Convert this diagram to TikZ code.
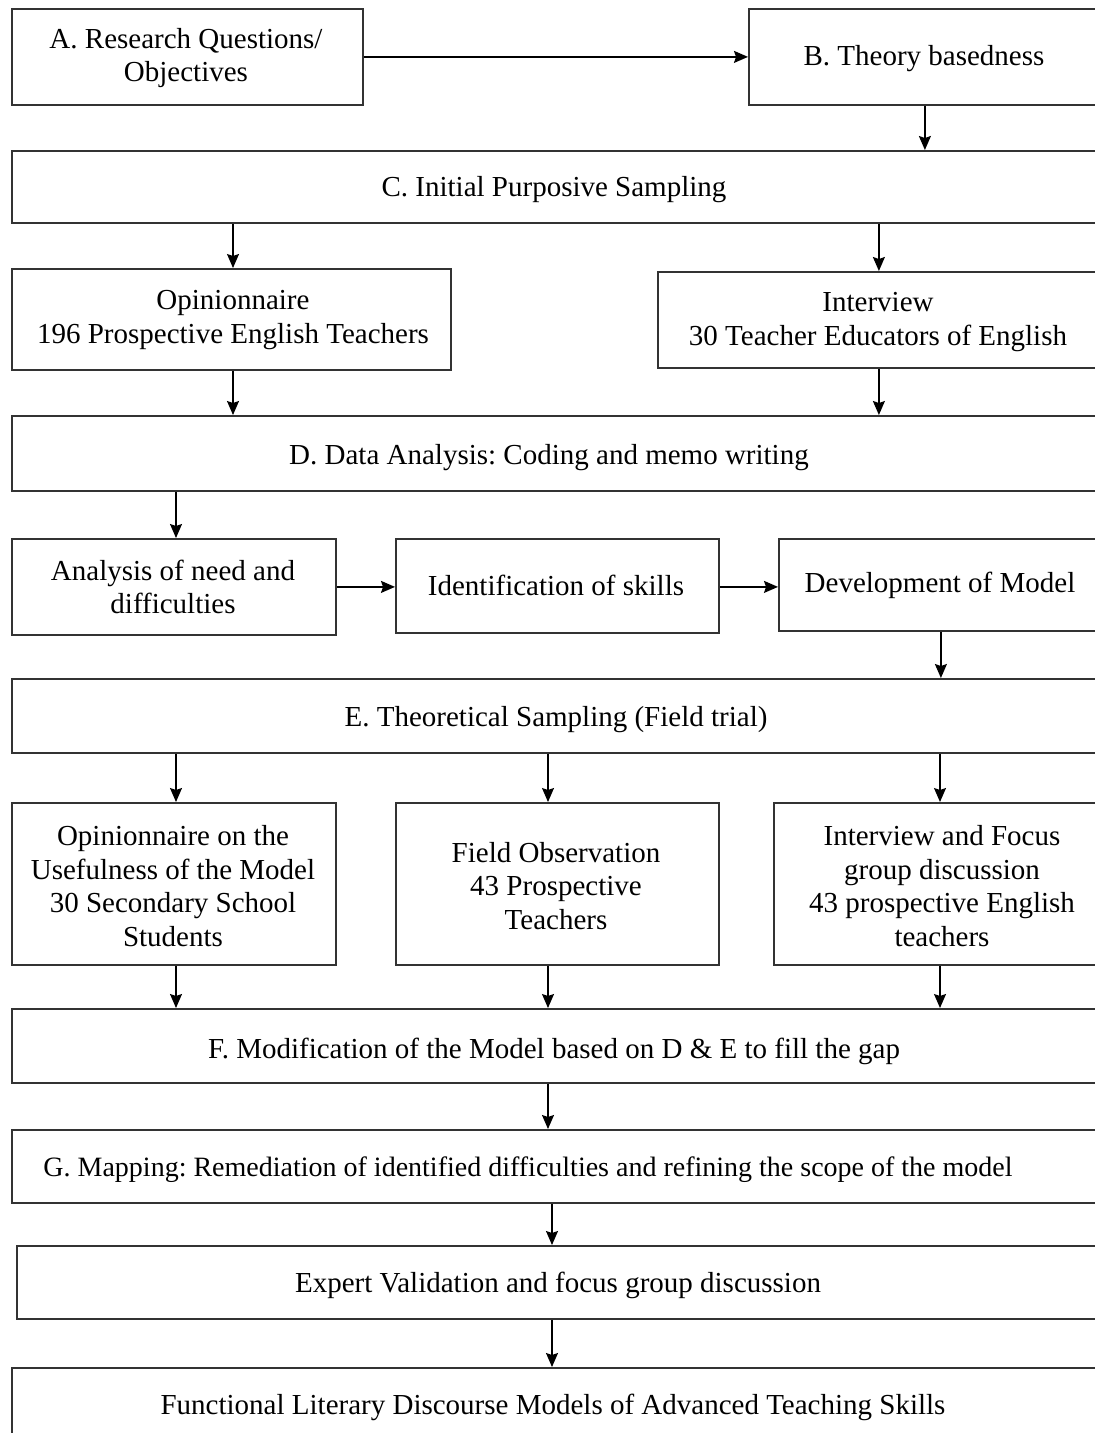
\documentclass[tikz,border=0pt]{standalone}
\usepackage{fontspec}
\setmainfont{Liberation Serif}
\usetikzlibrary{arrows.meta}
\frenchspacing
\begin{document}
\begin{tikzpicture}[x=1pt,y=-1pt,
  box/.style={draw=black!80, line width=1.8pt, inner sep=0pt, anchor=north west},
  txt/.style={align=center, inner sep=0pt, font=\fontsize{29}{33.5}\selectfont},
  arr/.style={-{Stealth[length=14pt,width=12pt,inset=2pt]}, line width=1.4pt}]
\useasboundingbox (0,0) rectangle (1095,1433);

% boxes
\node[box, minimum width=351, minimum height=96]  (A)   at (11,8) {};
\node[box, minimum width=352, minimum height=96]  (B)   at (748,8) {};
\node[box, minimum width=1118, minimum height=72] (C)   at (11,150) {};
\node[box, minimum width=439, minimum height=101] (Op)  at (11,268) {};
\node[box, minimum width=442, minimum height=96]  (Int) at (657,271) {};
\node[box, minimum width=1110, minimum height=75] (D)   at (11,415) {};
\node[box, minimum width=324, minimum height=96]  (An)  at (11,538) {};
\node[box, minimum width=323, minimum height=94]  (Id)  at (395,538) {};
\node[box, minimum width=324, minimum height=92]  (Dev) at (778,538) {};
\node[box, minimum width=1110, minimum height=74] (E)   at (11,678) {};
\node[box, minimum width=324, minimum height=162] (P1)  at (11,802) {};
\node[box, minimum width=323, minimum height=162] (P2)  at (395,802) {};
\node[box, minimum width=338, minimum height=162] (P3)  at (773,802) {};
\node[box, minimum width=1110, minimum height=74] (F)   at (11,1008) {};
\node[box, minimum width=1110, minimum height=73] (G)   at (11,1129) {};
\node[box, minimum width=1100, minimum height=73] (Ex)  at (16,1245) {};
\node[box, minimum width=1110, minimum height=90] (Fn)  at (11,1367) {};

% texts
\node[txt] (A-t)   at (186,58)   {A. Research Questions/\\Objectives};
\node[txt] (B-t)   at (924,59)   {B. Theory basedness};
\node[txt] (C-t)   at (554,190)  {C. Initial Purposive Sampling};
\node[txt] (Op-t)  at (233,320)  {Opinionnaire\\196 Prospective English Teachers};
\node[txt] (Int-t) at (878,322)  {Interview\\30 Teacher Educators of English};
\node[txt] (D-t)   at (549,458)  {D. Data Analysis: Coding and memo writing};
\node[txt] (An-t)  at (173,587)  {Analysis of need and\\difficulties};
\node[txt] (Id-t)  at (556,585)  {Identification of skills};
\node[txt] (Dev-t) at (940,585)  {Development of Model};
\node[txt] (E-t)   at (556,720)  {E. Theoretical Sampling (Field trial)};
\node[txt] (P1-t)  at (173,886)  {Opinionnaire on the\\Usefulness of the Model\\30 Secondary School\\Students};
\node[txt] (P2-t)  at (556,886)  {Field Observation\\43 Prospective\\Teachers};
\node[txt] (P3-t)  at (942,886)  {Interview and Focus\\group discussion\\43 prospective English\\teachers};
\node[txt] (F-t)   at (554,1051) {F. Modification of the Model based on D \& E to fill the gap};
\node[txt, font=\fontsize{28}{33}\selectfont] (G-t) at (528,1170) {G. Mapping: Remediation of identified difficulties and refining the scope of the model};
\node[txt] (Ex-t)  at (558,1285) {Expert Validation and focus group discussion};
\node[txt] (Fn-t)  at (553,1407) {Functional Literary Discourse Models of Advanced Teaching Skills};

% vertical guide lines for the arrows
\coordinate (xL) at (176,0);
\coordinate (xM) at (548,0);
\coordinate (xR) at (940,0);
\coordinate (xS) at (552,0);

% connectors
\draw[arr] (A.east) -- (B.west);
\draw[arr] (B.south) -- (B.south |- C.north);
\draw[arr] (C.south -| Op-t) -- (Op.north -| Op-t);
\draw[arr] (C.south -| Int) -- (Int.north);
\draw[arr] (Op.south -| Op-t) -- (D.north -| Op-t);
\draw[arr] (Int.south) -- (Int.south |- D.north);
\draw[arr] (D.south -| xL) -- (An.north -| xL);
\draw[arr] (An.east) -- (An.east -| Id.west);
\draw[arr] (Id.east |- An.east) -- (Dev.west |- An.east);
\draw[arr] (Dev.south) -- (Dev.south |- E.north);
\draw[arr] (E.south -| xL) -- (P1.north -| xL);
\draw[arr] (E.south -| xM) -- (P2.north -| xM);
\draw[arr] (E.south -| xR) -- (P3.north -| xR);
\draw[arr] (P1.south -| xL) -- (F.north -| xL);
\draw[arr] (P2.south -| xM) -- (F.north -| xM);
\draw[arr] (P3.south -| xR) -- (F.north -| xR);
\draw[arr] (F.south -| xM) -- (G.north -| xM);
\draw[arr] (G.south -| xS) -- (Ex.north -| xS);
\draw[arr] (Ex.south -| xS) -- (Fn.north -| xS);
\end{tikzpicture}
\end{document}
